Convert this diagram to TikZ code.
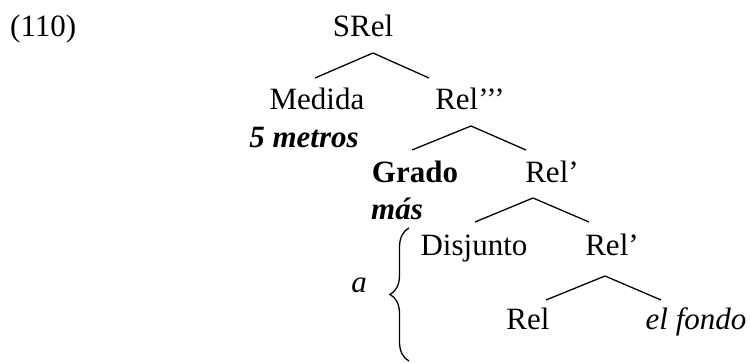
\documentclass[tikz,border=0pt]{standalone}
\usepackage{fontspec}
\setmainfont{Liberation Serif}
\usetikzlibrary{decorations.pathreplacing}

\begin{document}
\begin{tikzpicture}[
  x=1pt, y=-1pt,
  cat/.style={font=\fontsize{31}{37}\selectfont, anchor=base, inner sep=0pt},
  catbf/.style={cat, font=\fontsize{31}{37}\selectfont\bfseries},
  lex/.style={cat, font=\fontsize{31}{37}\selectfont\itshape},
  lexbf/.style={cat, font=\fontsize{31}{37}\selectfont\bfseries\itshape},
  branch/.style={line width=1.3pt},
  bracelbl/.style={line width=1.3pt, decorate, decoration={brace, amplitude=19pt}},
]

%% ── Frame ────────────────────────────────────────────────────────────────────
\useasboundingbox (0,0) rectangle (750,363);

%% ── Example number ───────────────────────────────────────────────────────────
\node[cat, anchor=base west] (num) at (10,37) {(110)};

%% ── Level 1 ──────────────────────────────────────────────────────────────────
\node[cat] (srel) at (363,37) {SRel};
\coordinate (b1)  at (373,53);
\coordinate (b1l) at (315,78);
\coordinate (b1r) at (429,78);
\draw[branch] (b1l) -- (b1) -- (b1r);

%% ── Level 2 ──────────────────────────────────────────────────────────────────
\node[cat]   (medida) at (317,110) {Medida};
\node[lexbf] (metros) at (304,148) {5 metros};
\node[cat]   (rel3)   at (470,110) {Rel’’’};
\coordinate (b2)  at (471,126);
\coordinate (b2l) at (412,150);
\coordinate (b2r) at (526,150);
\draw[branch] (b2l) -- (b2) -- (b2r);

%% ── Level 3 ──────────────────────────────────────────────────────────────────
\node[catbf] (grado) at (415,183) {Grado};
\node[lexbf] (mas)   at (397,220) {más};
\node[cat]   (rel2)  at (552,183) {Rel’};
\coordinate (b3)  at (533,198);
\coordinate (b3l) at (475,222);
\coordinate (b3r) at (589,222);
\draw[branch] (b3l) -- (b3) -- (b3r);

%% ── Level 4 ──────────────────────────────────────────────────────────────────
\node[cat] (disj) at (474,256) {Disjunto};
\node[cat] (rel1) at (612,256) {Rel’};
\coordinate (b4)  at (605,276);
\coordinate (b4l) at (546,300);
\coordinate (b4r) at (661,300);
\draw[branch] (b4l) -- (b4) -- (b4r);

%% ── Level 5 ──────────────────────────────────────────────────────────────────
\node[cat] (rel0)  at (528,330) {Rel};
\node[lex] (fondo) at (696,330) {el fondo};

%% ── Brace over the disjunct ──────────────────────────────────────────────────
\coordinate (brbot) at (409,361);
\coordinate (brtop) at (409,228);
\draw[bracelbl] (brbot) -- (brtop);
\node[lex] (prep) at (359,293) {a};

\end{tikzpicture}
\end{document}
